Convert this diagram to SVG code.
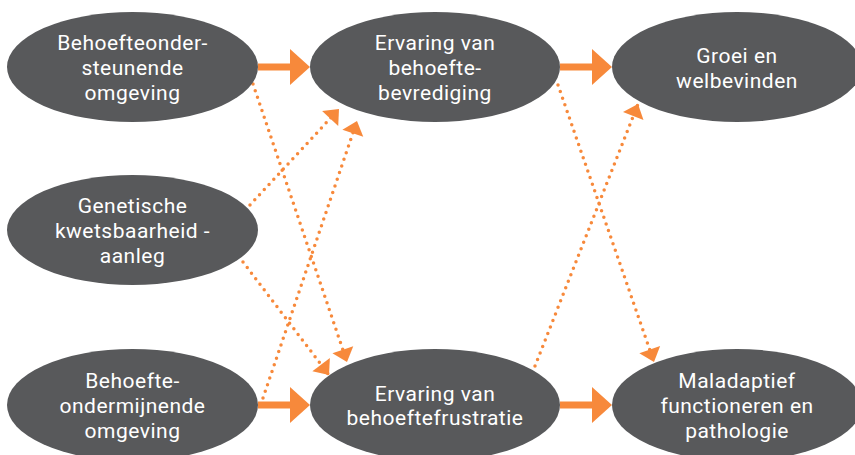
<svg xmlns="http://www.w3.org/2000/svg" width="855" height="455" viewBox="0 0 855 455">
<style>
.node ellipse{fill:#58595b}
.node text{fill:#ffffff;font-family:Roboto,"Liberation Sans",sans-serif;font-size:21px;letter-spacing:0.5px;text-anchor:middle}
.solid{stroke:#f7893b;stroke-width:7;fill:none;marker-end:url(#big)}
.dot{stroke:#f7893b;stroke-width:3.5;stroke-linecap:round;stroke-dasharray:0 7;fill:none;marker-end:url(#small)}
</style>
<defs>
<marker id="big" markerUnits="userSpaceOnUse" markerWidth="22" markerHeight="38" refX="1" refY="18" orient="auto" overflow="visible">
<path d="M0,0 L20,18 L0,36 z" fill="#f7893b"/>
</marker>
<marker id="small" markerUnits="userSpaceOnUse" markerWidth="14" markerHeight="23" refX="13" refY="11" orient="auto" overflow="visible">
<path d="M0,0 L13,11 L0,22 z" fill="#f7893b"/>
</marker>
</defs>
<rect width="855" height="455" fill="#ffffff"/>
<g id="connectors">
<line class="solid" x1="258" y1="67" x2="291" y2="67"/>
<line class="solid" x1="560" y1="67" x2="593" y2="67"/>
<line class="solid" x1="258" y1="405" x2="291" y2="405"/>
<line class="solid" x1="560" y1="405" x2="593" y2="405"/>
<line class="dot" x1="253" y1="84" x2="347" y2="362"/>
<line class="dot" x1="250" y1="205" x2="339" y2="109"/>
<line class="dot" x1="263" y1="398" x2="357" y2="121"/>
<line class="dot" x1="243" y1="262" x2="329" y2="375"/>
<line class="dot" x1="558" y1="85" x2="654" y2="362"/>
<line class="dot" x1="535" y1="366" x2="638" y2="104"/>
</g>
<g id="n1" class="node">
<ellipse cx="132.5" cy="67" rx="125.5" ry="55"/>
<text x="132.5" y="50">Behoefteonder-</text>
<text x="132.5" y="75">steunende</text>
<text x="132.5" y="100">omgeving</text>
</g>
<g id="n2" class="node">
<ellipse cx="435" cy="67" rx="125" ry="55"/>
<text x="435" y="50">Ervaring van</text>
<text x="435" y="75">behoefte-</text>
<text x="435" y="100">bevrediging</text>
</g>
<g id="n3" class="node">
<ellipse cx="737" cy="67" rx="125" ry="55"/>
<text x="737" y="63">Groei en</text>
<text x="737" y="88">welbevinden</text>
</g>
<g id="n4" class="node">
<ellipse cx="132.5" cy="230" rx="125.5" ry="55"/>
<text x="132.5" y="213">Genetische</text>
<text x="132.5" y="238">kwetsbaarheid -</text>
<text x="132.5" y="263">aanleg</text>
</g>
<g id="n5" class="node">
<ellipse cx="132.5" cy="405" rx="125.5" ry="56"/>
<text x="132.5" y="388">Behoefte-</text>
<text x="132.5" y="413">ondermijnende</text>
<text x="132.5" y="438">omgeving</text>
</g>
<g id="n6" class="node">
<ellipse cx="435" cy="405" rx="125" ry="56"/>
<text x="435" y="401">Ervaring van</text>
<text x="435" y="425">behoeftefrustratie</text>
</g>
<g id="n7" class="node">
<ellipse cx="737" cy="405" rx="125" ry="56"/>
<text x="737" y="388">Maladaptief</text>
<text x="737" y="413">functioneren en</text>
<text x="737" y="438">pathologie</text>
</g>
</svg>
